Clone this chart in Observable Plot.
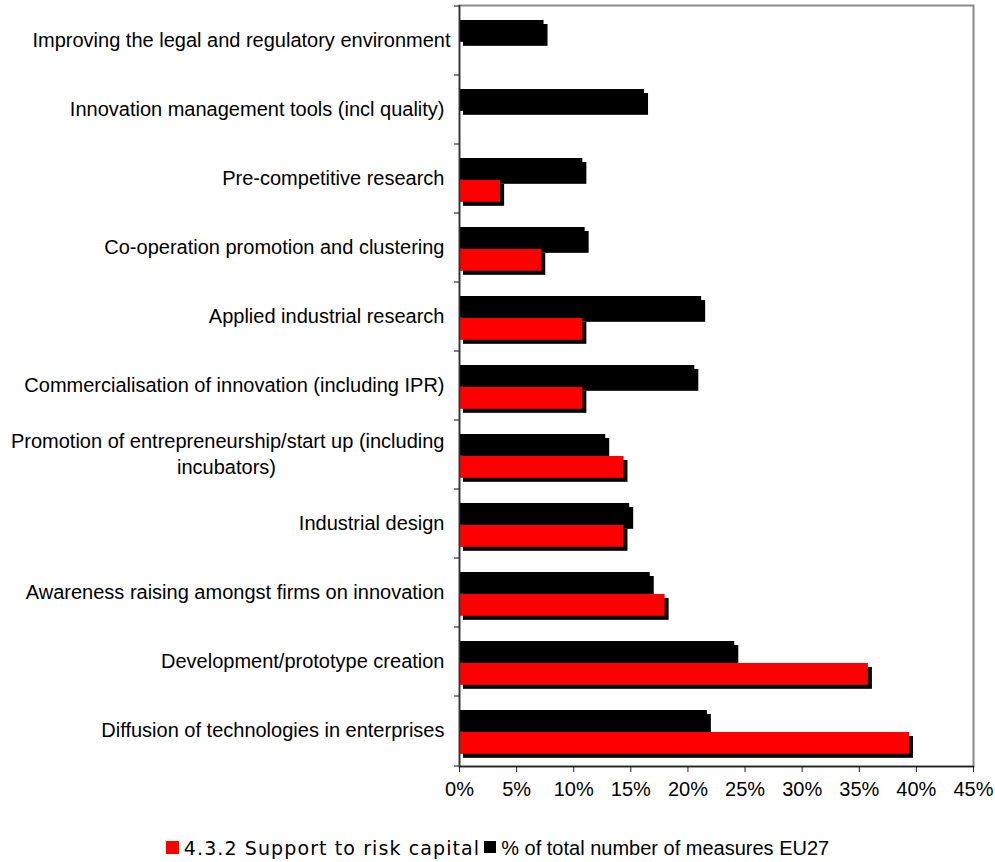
<!DOCTYPE html>
<html>
<head>
<meta charset="utf-8">
<script src="https://cdn.jsdelivr.net/npm/d3@7"></script>
<script src="https://cdn.jsdelivr.net/npm/@observablehq/plot@0.6"></script>
<style>
  html, body { margin: 0; padding: 0; background: #fff; }
  #chart { width: 995px; }
  #legend { width: 995px; text-align: center; padding-top: 20px; line-height: 24px; white-space: nowrap; }
  .sw { display: inline-block; width: 13px; height: 13px; vertical-align: middle; margin-right: 5px; position: relative; top: -1px; }
  .l1 { font-family: "DejaVu Sans", Verdana, sans-serif; font-size: 19px; letter-spacing: 1.1px; color: #000; vertical-align: middle; margin-right: 4px; }
  .l2 { font-family: "Liberation Sans", Arial, sans-serif; font-size: 20px; color: #000; vertical-align: middle; }
</style>
</head>
<body>
<div id="chart"></div>
<div id="legend"></div>
<script>
const categories = [
  "Improving the legal and regulatory environment",
  "Innovation management tools (incl quality)",
  "Pre-competitive research",
  "Co-operation promotion and clustering",
  "Applied industrial research",
  "Commercialisation of innovation (including IPR)",
  "Promotion of entrepreneurship/start up (including incubators)",
  "Industrial design",
  "Awareness raising amongst firms on innovation",
  "Development/prototype creation",
  "Diffusion of technologies in enterprises"
];
const promoLine1 = "Promotion of entrepreneurship/start up (including";
const promoLine2 = "incubators)";
const riskCapital = [0, 0, 3.6, 7.2, 10.8, 10.8, 14.4, 14.4, 18.0, 35.8, 39.4];
const eu27 = [7.4, 16.2, 10.8, 11.0, 21.2, 20.6, 12.8, 14.9, 16.7, 24.1, 21.7];
const xTicks = [0, 5, 10, 15, 20, 25, 30, 35, 40, 45];
const seriesNames = ["4.3.2 Support to risk capital", "% of total number of measures EU27"];

const blackData = categories.map((c, i) => ({c, v: eu27[i] / 100}));
const redData = categories.map((c, i) => ({c, v: riskCapital[i] / 100})).filter(d => d.v > 0);

const H = 815, mT = 5, mB = 49;
const band = (H - mT - mB) / categories.length;
const bTop = 14, bH = 22;

function leftTicks(index, scales, values, dims) {
  const g = d3.create("svg:g");
  const x0 = scales.x(0);
  const ys = categories.map(c => scales.y(c));
  ys.push(dims.height - dims.marginBottom);
  for (const y of ys) {
    g.append("line").attr("x1", x0 - 5).attr("x2", x0).attr("y1", y).attr("y2", y)
      .attr("stroke", "#333").attr("stroke-width", 1.2);
  }
  return g.node();
}

const labelFont = 20;
const chart = Plot.plot({
  width: 995,
  height: H,
  marginTop: mT,
  marginBottom: mB,
  marginLeft: 459,
  marginRight: 22,
  style: {fontFamily: "'Liberation Sans', Arial, sans-serif", background: "#fff", color: "#000"},
  x: {domain: [0, 0.45], axis: null},
  y: {domain: categories, padding: 0, axis: null},
  marks: [
    Plot.frame({stroke: "#8a8a8a", strokeWidth: 2}),
    // shadows
    Plot.barX(blackData, {x: "v", y: "c", fill: "#000", insetTop: bTop, insetBottom: band - bTop - bH, dx: 4, dy: 4}),
    Plot.barX(redData, {x: "v", y: "c", fill: "#000", insetTop: bTop + bH, insetBottom: band - bTop - 2 * bH, dx: 4, dy: 4}),
    // bars
    Plot.barX(blackData, {x: "v", y: "c", fill: "#000", insetTop: bTop, insetBottom: band - bTop - bH}),
    Plot.barX(redData, {x: "v", y: "c", fill: "#ff0000", insetTop: bTop + bH, insetBottom: band - bTop - 2 * bH}),
    Plot.ruleX([0], {stroke: "#333", strokeWidth: 1.5}),
    Plot.frame({anchor: "bottom", stroke: "#222", strokeWidth: 1.5}),
    leftTicks,
    Plot.axisX(xTicks.map(d => d / 100), {
      tickSize: 6, tickPadding: 9, fontSize: 20, stroke: "#222",
      tickFormat: d => Math.round(d * 100) + "%", label: null
    }),
    Plot.text(categories.filter((c, i) => i !== 0 && i !== 6), {
      x: 0, y: d => d, text: d => d, textAnchor: "end", dx: -15, fontSize: labelFont, fill: "#000"
    }),
    Plot.text([categories[0]], {x: 0, y: d => d, text: d => d, textAnchor: "end", dx: -9, fontSize: labelFont, fill: "#000"}),
    Plot.text([categories[6]], {x: 0, y: d => d, text: () => promoLine1, textAnchor: "end", dx: -15, dy: -13, fontSize: labelFont, fill: "#000"}),
    Plot.text([categories[6]], {x: 0, y: d => d, text: () => promoLine2, textAnchor: "middle", dx: -233, dy: 13, fontSize: labelFont, fill: "#000"})
  ]
});
document.getElementById("chart").append(chart);

const legend = document.getElementById("legend");
legend.innerHTML =
  `<span class="sw" style="background:#ff0000"></span><span class="l1">${seriesNames[0]}</span>` +
  `<span class="sw" style="background:#000;width:12px;height:12px"></span><span class="l2">${seriesNames[1]}</span>`;
</script>
</body>
</html>
